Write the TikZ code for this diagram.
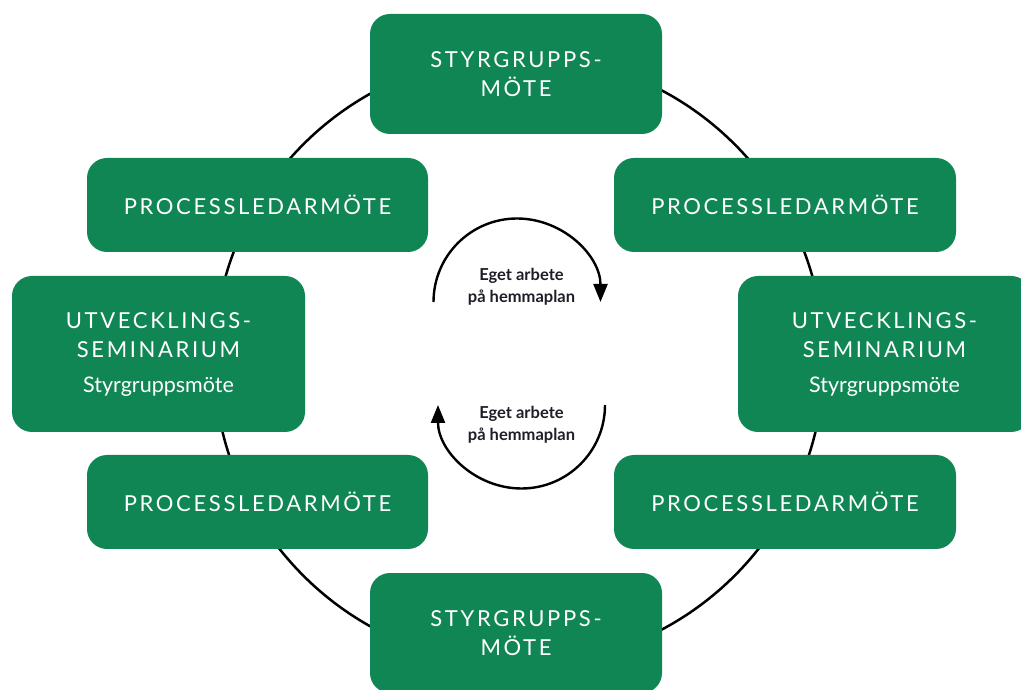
\documentclass[tikz,border=0pt]{standalone}
\usepackage{fontspec}
\setmainfont{Lato}
\newfontfamily\capsfont[LetterSpace=12]{Lato}
\newfontfamily\plainfont{Lato}
\usetikzlibrary{arrows.meta}
\definecolor{boxgreen}{RGB}{16,134,84}
\definecolor{inktext}{RGB}{30,30,40}
\tikzset{
  greenbox/.style={fill=boxgreen, rounded corners=20pt, text=white, align=center,
    inner sep=0pt, font=\capsfont\fontsize{22}{29.5}\selectfont},
  ring/.style={line width=2.5pt, black},
  loopline/.style={line width=2.4pt, black, -{Triangle[length=18pt,width=14pt]}},
  worktext/.style={font=\bfseries\fontsize{16.5}{21.5}\selectfont, text=inktext, align=center}
}
\newcommand{\subline}[1]{{\plainfont\fontsize{21.5}{29.5}\selectfont #1}}
\begin{document}
\begin{tikzpicture}[x=1pt,y=1pt]
  \useasboundingbox (0,0) rectangle (1021,689);
  \fill[white] (0,0) rectangle (1021,689);
  \coordinate (mid) at (519,329);
  \draw[ring] (mid) circle (305);
  % boxes
  \node[greenbox, minimum width=292pt, minimum height=120pt] (top) at (516,615) {STYRGRUPPS-\\MÖTE};
  \node[greenbox, minimum width=292pt, minimum height=120pt] (bottom) at (516,56) {STYRGRUPPS-\\MÖTE};
  \node[greenbox, minimum width=341pt, minimum height=94pt] (ul) at (257.5,484) {PROCESSLEDARMÖTE};
  \node[greenbox, minimum width=342pt, minimum height=94pt] (ur) at (785,484) {PROCESSLEDARMÖTE};
  \node[greenbox, minimum width=341pt, minimum height=94pt] (ll) at (257.5,187) {PROCESSLEDARMÖTE};
  \node[greenbox, minimum width=342pt, minimum height=94pt] (lr) at (785,187) {PROCESSLEDARMÖTE};
  \node[greenbox, minimum width=293pt, minimum height=156pt] (left) at (158.5,335) {UTVECKLINGS-\\SEMINARIUM\\[5pt]\subline{Styrgruppsmöte}};
  \node[greenbox, minimum width=293pt, minimum height=156pt] (right) at (884.5,335) {UTVECKLINGS-\\SEMINARIUM\\[5pt]\subline{Styrgruppsmöte}};
  % centre texts and loops
  \node[worktext] (w1) at (521.5,402) {Eget arbete\\på hemmaplan};
  \node[worktext] (w2) at (521.5,264) {Eget arbete\\på hemmaplan};
  \coordinate (a1) at (433.5,387);
  \coordinate (a2) at (605,284);
  \draw[loopline] (a1) arc[start angle=180, end angle=0, radius=83.5];
  \draw[loopline] (a2) arc[start angle=0, end angle=-180, radius=83.5];
\end{tikzpicture}
\end{document}
